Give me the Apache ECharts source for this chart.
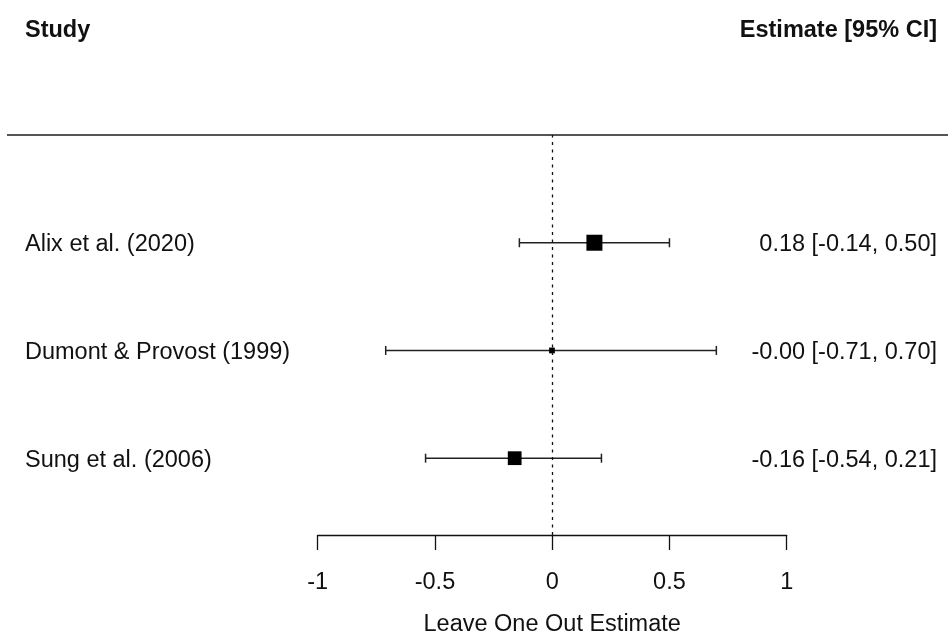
<!DOCTYPE html>
<html>
<head>
<meta charset="utf-8">
<script src="https://cdn.jsdelivr.net/npm/echarts@6/dist/echarts.min.js"></script>
<style>
  html, body { margin: 0; padding: 0; background: #fff; }
  #chart { width: 948px; height: 642px; }
</style>
</head>
<body>
<div id="chart"></div>
<script>
// Leave-one-out forest plot data
const studies   = ['Alix et al. (2020)', 'Dumont & Provost (1999)', 'Sung et al. (2006)'];
const estimates = [0.18, -0.001, -0.16];
const ciLower   = [-0.14, -0.71, -0.54];
const ciUpper   = [0.50, 0.70, 0.21];
const relWeight = [1.0, 0.36, 0.86];
const rows      = [3, 2, 1];
const xTicks    = [-1, -0.5, 0, 0.5, 1];

const FONT = '"Liberation Sans", Arial, Helvetica, sans-serif';
const FS = 23.5;
const INK = '#111';
const TEXT_SHIFT = 2;

const fmt = v => v.toFixed(2);
const estText = studies.map((s, i) => `${fmt(estimates[i])} [${fmt(ciLower[i])}, ${fmt(ciUpper[i])}]`);

const ciData = studies.map((s, i) => [ciLower[i], ciUpper[i], rows[i], i]);
const boxData = studies.map((s, i) => ({ value: [estimates[i], rows[i]], symbolSize: 16 * relWeight[i] }));

const chart = echarts.init(document.getElementById('chart'), null, { renderer: 'canvas' });

chart.setOption({
  animation: false,
  backgroundColor: '#fff',
  grid: { left: 317.7, right: 161.3, top: 135, bottom: 106 },
  xAxis: {
    type: 'value',
    min: xTicks[0],
    max: xTicks[xTicks.length - 1],
    interval: 0.5,
    splitLine: { show: false },
    axisLine: { show: true, onZero: false, lineStyle: { color: INK, width: 1.3 } },
    axisTick: { show: true, length: 15, lineStyle: { color: INK, width: 1.3 } },
    axisLabel: { margin: 36, color: INK, fontFamily: FONT, fontSize: FS },
    name: 'Leave One Out Estimate',
    nameLocation: 'middle',
    nameGap: 78,
    nameTextStyle: { color: INK, fontFamily: FONT, fontSize: FS }
  },
  yAxis: {
    type: 'value',
    min: 0.287,
    max: 4,
    show: false
  },
  series: [
    {
      // confidence interval whiskers plus row texts
      type: 'custom',
      clip: false,
      data: ciData,
      renderItem: function (params, api) {
        const lo = api.coord([api.value(0), api.value(2)]);
        const hi = api.coord([api.value(1), api.value(2)]);
        const idx = api.value(3);
        const cap = 4.5;
        const y = lo[1];
        const ls = { stroke: '#222', lineWidth: 1.5 };
        return {
          type: 'group',
          children: [
            { type: 'line', shape: { x1: lo[0], y1: y, x2: hi[0], y2: y }, style: ls },
            { type: 'line', shape: { x1: lo[0], y1: y - cap, x2: lo[0], y2: y + cap }, style: ls },
            { type: 'line', shape: { x1: hi[0], y1: y - cap, x2: hi[0], y2: y + cap }, style: ls },
            { type: 'text', style: { x: 25, y: y + TEXT_SHIFT, text: studies[idx], fill: INK, font: FS + 'px ' + FONT, textAlign: 'left', textVerticalAlign: 'middle' } },
            { type: 'text', style: { x: 937, y: y + TEXT_SHIFT, text: estText[idx], fill: INK, font: FS + 'px ' + FONT, textAlign: 'right', textVerticalAlign: 'middle' } }
          ]
        };
      },
      z: 2
    },
    {
      // point estimates sized by weight
      type: 'scatter',
      symbol: 'rect',
      data: boxData,
      itemStyle: { color: '#000', opacity: 1 },
      z: 3,
      markLine: {
        silent: true,
        symbol: 'none',
        label: { show: false },
        lineStyle: { color: INK, width: 1.3, type: [3, 4.5] },
        data: [{ xAxis: 0 }]
      }
    },
    {
      // header row and separator line
      type: 'custom',
      clip: false,
      data: [[0, 4, 5]],
      renderItem: function (params, api) {
        const lineY = api.coord([0, api.value(1)])[1];
        const headY = api.coord([0, api.value(2)])[1];
        return {
          type: 'group',
          children: [
            { type: 'line', shape: { x1: 7, y1: lineY, x2: api.getWidth(), y2: lineY }, style: { stroke: '#555', lineWidth: 2.2 } },
            { type: 'text', style: { x: 25, y: headY + TEXT_SHIFT + 1, text: 'Study', fill: INK, font: 'bold ' + FS + 'px ' + FONT, textAlign: 'left', textVerticalAlign: 'middle' } },
            { type: 'text', style: { x: 937, y: headY + TEXT_SHIFT + 1, text: 'Estimate [95% CI]', fill: INK, font: 'bold ' + FS + 'px ' + FONT, textAlign: 'right', textVerticalAlign: 'middle' } }
          ]
        };
      },
      z: 1
    }
  ]
});
</script>
</body>
</html>
